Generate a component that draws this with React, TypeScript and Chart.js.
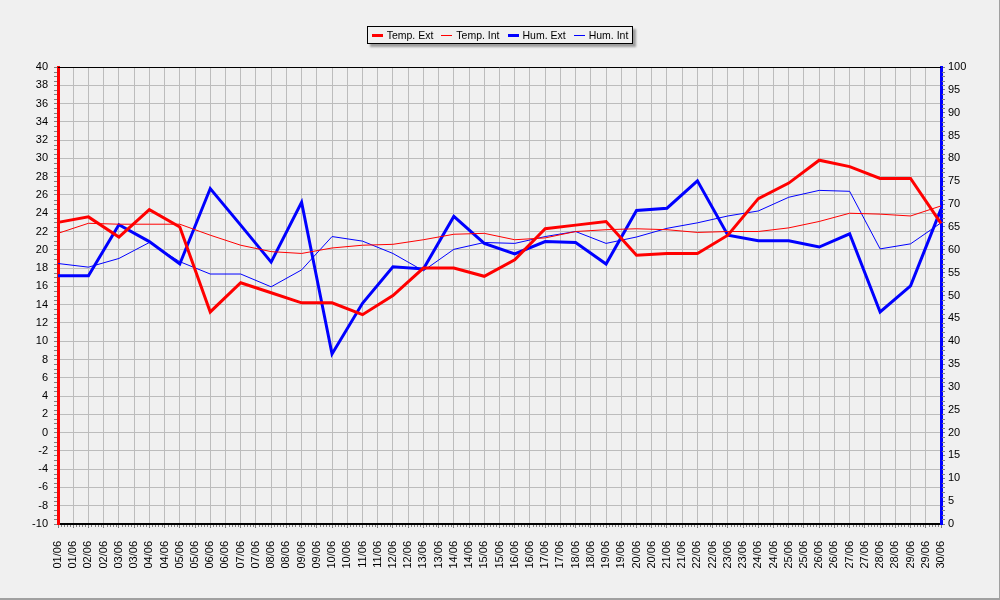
import { useEffect, useRef } from "react"
import { Chart, registerables, type ChartConfiguration, type Plugin } from "chart.js"

Chart.register(...registerables)

// one reading per day, the axis shows every date twice
const days = [
  "01/06", "02/06", "03/06", "04/06", "05/06", "06/06", "07/06", "08/06", "09/06", "10/06",
  "11/06", "12/06", "13/06", "14/06", "15/06", "16/06", "17/06", "18/06", "19/06", "20/06",
  "21/06", "22/06", "23/06", "24/06", "25/06", "26/06", "27/06", "28/06", "29/06", "30/06",
]
const tickLabels = days.flatMap((d, i) => (i < days.length - 1 ? [d, d] : [d]))

// temperatures (left axis, °C)
const tempExt = [
  23.0, 23.6, 21.4, 24.4, 22.5, 13.2, 16.4, 15.3, 14.2, 14.2,
  12.9, 15.0, 18.0, 18.0, 17.1, 18.9, 22.3, 22.7, 23.1, 19.4,
  19.6, 19.6, 21.6, 25.6, 27.3, 29.8, 29.1, 27.8, 27.8, 22.9,
]
const tempInt = [
  21.8, 22.9, 22.8, 22.8, 22.8, 21.6, 20.5, 19.8, 19.6, 20.2,
  20.5, 20.6, 21.1, 21.7, 21.8, 21.1, 21.3, 22.0, 22.2, 22.3,
  22.2, 21.9, 22.0, 22.0, 22.4, 23.1, 24.0, 23.9, 23.7, 24.8,
]
// humidity (right axis, %)
const humExt = [
  54.3, 54.3, 65.5, 61.8, 56.9, 73.4, 65.4, 57.3, 70.4, 37.2,
  48.3, 56.3, 55.8, 67.3, 61.4, 59.1, 61.8, 61.6, 56.9, 68.6,
  69.1, 75.1, 63.2, 62.0, 62.0, 60.6, 63.5, 46.4, 52.1, 68.9,
]
const humInt = [
  57.0, 56.2, 58.1, 61.6, 57.4, 54.7, 54.7, 51.9, 55.6, 62.9,
  61.9, 59.2, 55.4, 60.1, 61.6, 61.4, 62.9, 64.0, 61.4, 62.8,
  64.7, 65.9, 67.4, 68.5, 71.5, 73.0, 72.8, 60.2, 61.3, 65.9,
]

const tempMin = -10
const tempMax = 40
const humMin = 0
const humMax = 100

const RED = "#ff0000"
const BLUE = "#0000ff"
const GRID = "#bcbcbc"
const TICK = "#808080"

// put the daily values on every second tick
const spread = (values: number[]) =>
  tickLabels.map((_, i) => (i % 2 === 0 ? values[i / 2] : null))

const legendItems = [
  { label: "Temp. Ext", color: RED, width: 3 },
  { label: "Temp. Int", color: RED, width: 1 },
  { label: "Hum. Ext", color: BLUE, width: 3 },
  { label: "Hum. Int", color: BLUE, width: 1 },
]

// small minor ticks on the axes and the black line on top of the plot
const framePlugin: Plugin = {
  id: "frame",
  afterDraw(chart) {
    const { ctx, chartArea: a, scales } = chart
    ctx.save()
    ctx.strokeStyle = TICK
    ctx.lineWidth = 1
    ctx.beginPath()
    for (let i = 0; i < tickLabels.length - 1; i++) {
      for (let k = 1; k < 5; k++) {
        const px = Math.round(scales.x.getPixelForValue(i + k / 5)) + 0.5
        ctx.moveTo(px, a.bottom + 1)
        ctx.lineTo(px, a.bottom + 3)
      }
    }
    for (let v = tempMin; v < tempMax; v += 0.5) {
      if (v % 2 === 0) continue
      const py = Math.round(scales.y.getPixelForValue(v)) + 0.5
      ctx.moveTo(a.left - 4, py)
      ctx.lineTo(a.left - 1, py)
    }
    for (let v = humMin; v < humMax; v += 1) {
      if (v % 5 === 0) continue
      const py = Math.round(scales.y1.getPixelForValue(v)) + 0.5
      ctx.moveTo(a.right + 1, py)
      ctx.lineTo(a.right + 4, py)
    }
    ctx.stroke()
    ctx.strokeStyle = "#000"
    ctx.beginPath()
    ctx.moveTo(a.left, a.top + 0.5)
    ctx.lineTo(a.right, a.top + 0.5)
    ctx.stroke()
    ctx.restore()
  },
}

export default function App() {
  const chartRef = useRef<HTMLCanvasElement>(null)
  const chartInstance = useRef<Chart | null>(null)

  useEffect(() => {
    if (!chartRef.current) return
    Chart.defaults.font.family = "'Liberation Sans', Arial, sans-serif"
    Chart.defaults.font.size = 11
    Chart.defaults.color = "#000"

    const line = (label: string, data: number[], color: string, width: number, axis: string) => ({
      label,
      data: spread(data),
      borderColor: color,
      backgroundColor: color,
      borderWidth: width,
      pointRadius: 0,
      tension: 0,
      spanGaps: true,
      yAxisID: axis,
    })

    const config: ChartConfiguration = {
      type: "line",
      data: {
        labels: tickLabels,
        datasets: [
          line("Temp. Ext", tempExt, RED, 3, "y"),
          line("Temp. Int", tempInt, RED, 1, "y"),
          line("Hum. Ext", humExt, BLUE, 3, "y1"),
          line("Hum. Int", humInt, BLUE, 1, "y1"),
        ],
      },
      options: {
        responsive: true,
        maintainAspectRatio: false,
        animation: false,
        layout: { padding: { top: 67, left: 0, right: 0, bottom: 0 } },
        plugins: {
          legend: { display: false },
          tooltip: { enabled: false },
        },
        scales: {
          x: {
            offset: false,
            grid: { color: GRID, tickColor: TICK, tickLength: 4 },
            border: { color: "#000", width: 2 },
            ticks: { autoSkip: false, minRotation: 90, maxRotation: 90, padding: 13 },
            afterFit: (scale) => {
              scale.height = 76
            },
          },
          y: {
            position: "left",
            min: tempMin,
            max: tempMax,
            ticks: { stepSize: 2, padding: 6 },
            grid: { color: GRID, tickColor: TICK, tickLength: 4 },
            border: { color: RED, width: 3 },
            afterFit: (scale) => {
              scale.width = 58
            },
          },
          y1: {
            position: "right",
            min: humMin,
            max: humMax,
            ticks: { stepSize: 5, padding: 3 },
            grid: { drawOnChartArea: false, tickColor: TICK, tickLength: 4 },
            border: { color: BLUE, width: 3 },
            afterFit: (scale) => {
              scale.width = 59
            },
          },
        },
      },
      plugins: [framePlugin],
    }

    chartInstance.current = new Chart(chartRef.current, config)

    return () => {
      if (chartInstance.current) {
        chartInstance.current.destroy()
        chartInstance.current = null
      }
    }
  }, [])

  return (
    <div
      style={{
        position: "fixed",
        left: 0,
        top: 0,
        width: 1000,
        height: 600,
        background: "#f0f0f0",
        boxShadow: "inset -1px -2px 0 #a0a0a0",
        fontFamily: "'Liberation Sans', Arial, sans-serif",
      }}
    >
      <canvas ref={chartRef}></canvas>
      <div
        style={{
          position: "absolute",
          left: 367,
          top: 26,
          width: 266,
          height: 18,
          boxSizing: "border-box",
          border: "1px solid #000",
          background: "#f0f0f0",
          boxShadow: "3px 3px 2px rgba(0,0,0,0.35)",
          display: "flex",
          alignItems: "center",
          justifyContent: "center",
          gap: 8,
          fontSize: 10.5,
          lineHeight: "16px",
          color: "#000",
          whiteSpace: "nowrap",
        }}
      >
        {legendItems.map((item) => (
          <span key={item.label} style={{ display: "flex", alignItems: "center", gap: 4, flexShrink: 0 }}>
            <span
              style={{
                display: "block",
                width: 11,
                height: 3,
                flexShrink: 0,
                background:
                  item.width === 3
                    ? item.color
                    : `linear-gradient(transparent 1px, ${item.color} 1px, ${item.color} 2px, transparent 2px)`,
              }}
            />
            <span>{item.label}</span>
          </span>
        ))}
      </div>
    </div>
  )
}
